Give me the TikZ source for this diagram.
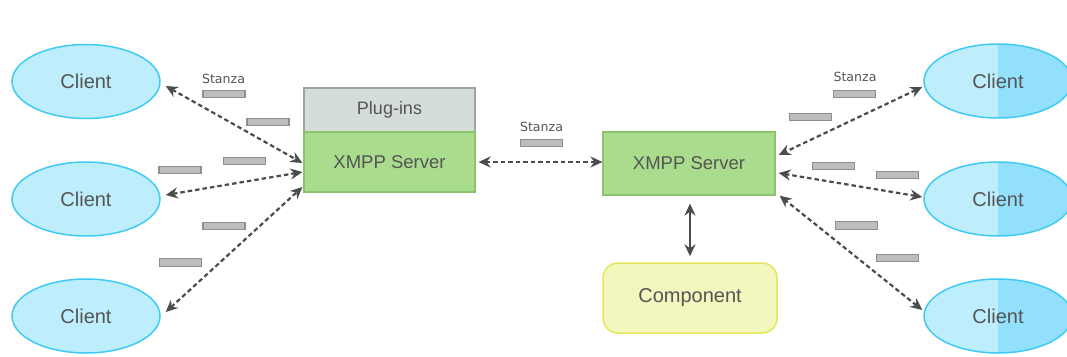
\documentclass[tikz,border=0pt]{standalone}
\usepackage{fontspec}
\setmainfont{Liberation Sans}
\newfontfamily\labelfont{DejaVu Sans}
\usetikzlibrary{arrows.meta,calc,shapes.geometric}

\definecolor{txt}{HTML}{555555}
\definecolor{linkc}{HTML}{4A4D4C}
\definecolor{clientfill}{HTML}{BEEDFC}
\definecolor{clientdark}{HTML}{92E0FC}
\definecolor{clientline}{HTML}{40CBF3}
\definecolor{plugfill}{HTML}{D4DDD8}
\definecolor{plugline}{HTML}{9CA6A1}
\definecolor{srvfill}{HTML}{A9DC8C}
\definecolor{srvline}{HTML}{8CC46E}
\definecolor{compfill}{HTML}{F3F7BE}
\definecolor{compline}{HTML}{E2E85A}
\definecolor{pktfill}{HTML}{BDBDBD}
\definecolor{pktline}{HTML}{8E8E8E}

\tikzset{
  client/.style={shape=ellipse, draw=clientline, line width=1.5pt, fill=clientfill,
    minimum width=148pt, minimum height=74pt, inner sep=0pt, text=txt,
    font=\fontsize{20}{24}\selectfont},
  rclient/.style={client, path picture={\fill[clientdark]
    (path picture bounding box.north) rectangle (path picture bounding box.south east);}},
  plugbox/.style={draw=plugline, line width=1.2pt, fill=plugfill, inner sep=0pt,
    minimum width=171pt, minimum height=44pt, text=txt, font=\fontsize{18}{22}\selectfont},
  server/.style={draw=srvline, line width=1.2pt, fill=srvfill, inner sep=0pt,
    text=txt, font=\fontsize{18.5}{22}\selectfont},
  compbox/.style={draw=compline, line width=1.5pt, fill=compfill, rounded corners=15pt,
    inner sep=0pt, minimum width=174pt, minimum height=70pt, text=txt,
    font=\fontsize{20}{24}\selectfont},
  packet/.style={draw=pktline, line width=1.1pt, fill=pktfill, inner sep=0pt,
    minimum width=42pt, minimum height=7.5pt},
  stanza/.style={inner sep=0pt, text=txt, font=\labelfont\fontsize{12.6}{14}\selectfont},
  dlink/.style={draw=linkc, line width=2.2pt, dash pattern=on 4.5pt off 3pt,
    {Stealth[length=12pt,width=11pt,inset=4pt]}-{Stealth[length=12pt,width=11pt,inset=4pt]}},
  slink/.style={draw=linkc, line width=2.2pt,
    {Stealth[length=12pt,width=11pt,inset=4pt]}-{Stealth[length=12pt,width=11pt,inset=4pt]}}
}

\begin{document}
\begin{tikzpicture}[x=1pt,y=-1pt]
\useasboundingbox[fill=white] (0,0) rectangle (1067,356);

% clients on the left
\node[client] (cl1) at (86,81.5) {Client};
\node[client] (cl2) at (86,199) {Client};
\node[client] (cl3) at (86,316) {Client};

% clients on the right
\node[rclient] (cr1) at (998,81) {Client};
\node[rclient] (cr2) at (998,199) {Client};
\node[rclient] (cr3) at (998,316) {Client};

% first server with its plug-ins
\node[plugbox] (plug) at (389.5,110) {Plug-ins};
\node[server, minimum width=171pt, minimum height=60pt] (s1) at (389.5,162) {XMPP Server};

% second server and the component
\node[server, minimum width=172pt, minimum height=63pt] (s2) at (689,163.5) {XMPP Server};
\node[compbox] (comp) at (690,298) {Component};

% stanza labels
\node[stanza] (st1) at (223.5,78.5) {Stanza};
\node[stanza] (st2) at (541.5,126.5) {Stanza};
\node[stanza] (st3) at (855,77) {Stanza};

% stanzas in transit
\foreach \n/\x/\y in {1/224/94, 2/268/122, 3/244.5/161, 4/180/170, 5/224/226, 6/180.5/262.5,
                      7/541.5/143,
                      8/854.5/94, 9/810.5/117, 10/833.5/166, 11/897.5/175, 12/856.5/225.5, 13/897.5/258}
  \node[packet] (pk\n) at (\x,\y) {};

% client to server links, left side
\draw[dlink] ($(cl1.east)+(5,4.5)$) -- ($(s1.west)+(-1,1)$);
\draw[dlink] ($(cl2.east)+(5,-4)$) -- ($(s1.west)+(-1,10)$);
\draw[dlink] ($(cl3.east)+(5,-4)$) -- ($(s1.west)+(-1,25)$);

% client to server links, right side
\draw[dlink] ($(cr1.west)+(-1,6)$) -- ($(s2.east)+(3,-8.5)$);
\draw[dlink] ($(cr2.west)+(-1,-2)$) -- ($(s2.east)+(3,9.5)$);
\draw[dlink] ($(cr3.west)+(-1,-6)$) -- ($(s2.south east)+(4,0)$);

% server to server
\draw[dlink] ($(s1.east)+(3,0)$) -- (s1.east -| s2.west);

% server to component
\draw[slink] ($(s2.south)+(1,8)$) -- ($(comp.north)+(0,-6)$);
\end{tikzpicture}
\end{document}
